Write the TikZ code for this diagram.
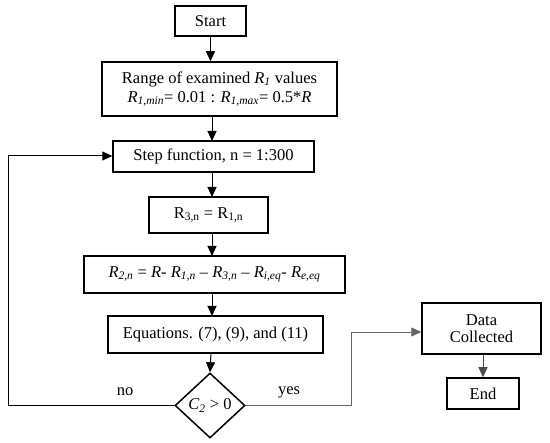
\documentclass[tikz,border=0pt]{standalone}
\usepackage{fontspec}
\setmainfont{Liberation Serif}
\usetikzlibrary{shapes.geometric,arrows.meta}
\begin{document}
\begin{tikzpicture}[x=1pt,y=-1pt,
  box/.style={draw=black,line width=1.5pt,inner sep=2pt,align=center,font=\fontsize{16.5}{17.5}\selectfont},
  dia/.style={draw=black,line width=1.5pt,diamond,aspect=1.08,inner sep=0pt,font=\fontsize{16.5}{17.5}\selectfont},
  arr/.style={line width=1pt,-{Triangle[length=10pt,width=9pt]}},
  lbl/.style={font=\fontsize{16.5}{17.5}\selectfont}]
\useasboundingbox[fill=white] (0,0) rectangle (550,443);
\node[box,minimum width=71pt,minimum height=30pt] (start) at (210.5,21) {Start};
\node[box,minimum width=235pt,minimum height=54pt] (range) at (219.5,89)
  {Range of examined \textit{R\textsubscript{1}} values\\[1.5pt]
   \textit{R\textsubscript{1,min}}= 0.01 : \textit{R\textsubscript{1,max}}= 0.5*\textit{R}};
\node[box,minimum width=201pt,minimum height=31pt] (step) at (213.5,156.5) {Step function, n = 1:300};
\node[box,minimum width=119pt,minimum height=36pt] (r3) at (208.5,215) {R\textsubscript{3,n} = R\textsubscript{1,n}};
\node[box,minimum width=261pt,minimum height=37pt] (r2) at (214.5,274.5)
  {\textit{R\textsubscript{2,n}} = \textit{R}- \textit{R\textsubscript{1,n}} -- \textit{R\textsubscript{3,n}} -- \textit{R\textsubscript{i,eq}}- \textit{R\textsubscript{e,eq}}};
\node[box,minimum width=215pt,minimum height=37pt] (eq) at (215.5,334.5) {Equations. (7), (9), and (11)};
\node[dia,minimum width=70pt,minimum height=65pt] (c2) at (210,405.5) {\textit{C\textsubscript{2}} > 0};
\node[box,minimum width=119pt,minimum height=51pt] (data) at (481.5,328.5) {Data\\[-1pt]Collected};
\node[box,minimum width=72pt,minimum height=31pt] (end) at (483,393.5) {End};
\coordinate (lb) at (8,405.5);
\coordinate (lt) at (8,156);
\coordinate (yb) at (351,405.5);
\coordinate (yt) at (351,332);
\draw[arr] (start.south) -- (start.south |- range.north);
\draw[arr] (212,116) -- (212,141);
\draw[arr] (212,172) -- (212,197);
\draw[arr] (212,233) -- (212,256);
\draw[arr] (212,293) -- (212,316);
\draw[arr] (211,353) -- (c2.north);
\draw[arr] (c2.west) -- (lb) -- (lt) -- (lt -| step.west);
\draw[arr,line width=0.7pt,draw=black!60] (c2.east) -- (yb) -- (yt) -- (yt -| data.west);
\draw[arr,draw=black!70] (end.north |- data.south) -- (end.north);
\node[lbl] (no) at (125,392) {no};
\node[lbl] (yes) at (289,392) {yes};
\end{tikzpicture}
\end{document}
